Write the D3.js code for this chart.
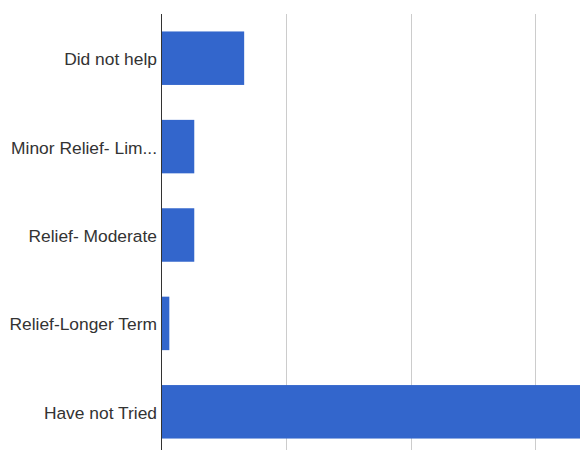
<!DOCTYPE html>
<html>
<head>
<meta charset="utf-8">
<script src="https://cdn.jsdelivr.net/npm/d3@7"></script>
<style>
  html, body { margin: 0; padding: 0; background: #fff; }
  svg { display: block; }
</style>
</head>
<body>
<div id="chart"></div>
<script>
const categories = ["Did not help", "Minor Relief- Lim...", "Relief- Moderate", "Relief-Longer Term", "Have not Tried"];
const values = [10, 4, 4, 1, 56];
const xTicks = [0, 15, 30, 45, 60];

(function () {
const W = 580, H = 450;
const mLeft = 161, mTop = 14;
const plotW = 499, plotH = 442;

const svg = d3.select("#chart").append("svg")
  .attr("width", W).attr("height", H);

const x = d3.scaleLinear().domain([0, 60]).range([mLeft, mLeft + plotW]);
const y = d3.scaleBand().domain(categories).range([mTop, mTop + plotH])
  .paddingInner(0.395).paddingOuter(0.1975);

// gridlines
svg.append("g").selectAll("line").data(xTicks.filter(d => d > 0)).join("line")
  .attr("x1", d => Math.round(x(d)) + 0.5).attr("x2", d => Math.round(x(d)) + 0.5)
  .attr("y1", mTop).attr("y2", mTop + plotH)
  .attr("stroke", "#cccccc").attr("stroke-width", 1);

// bars
svg.append("g").selectAll("rect").data(categories).join("rect")
  .attr("x", x(0))
  .attr("y", d => y(d))
  .attr("width", (d, i) => x(values[i]) - x(0))
  .attr("height", y.bandwidth())
  .attr("fill", "#3366cc");

// axis line
svg.append("line")
  .attr("x1", mLeft + 0.5).attr("x2", mLeft + 0.5)
  .attr("y1", mTop).attr("y2", mTop + plotH)
  .attr("stroke", "#333333").attr("stroke-width", 1);

// category labels
const yAxis = d3.axisLeft(y).tickSize(0).tickPadding(4);
const gy = svg.append("g").attr("transform", `translate(${mLeft},0)`).call(yAxis);
gy.select(".domain").remove();
gy.selectAll("text")
  .attr("dy", "0.4em")
  .attr("font-family", "Arial, 'Liberation Sans', sans-serif")
  .attr("font-size", 17.4)
  .attr("fill", "#333333");
})();
</script>
</body>
</html>
